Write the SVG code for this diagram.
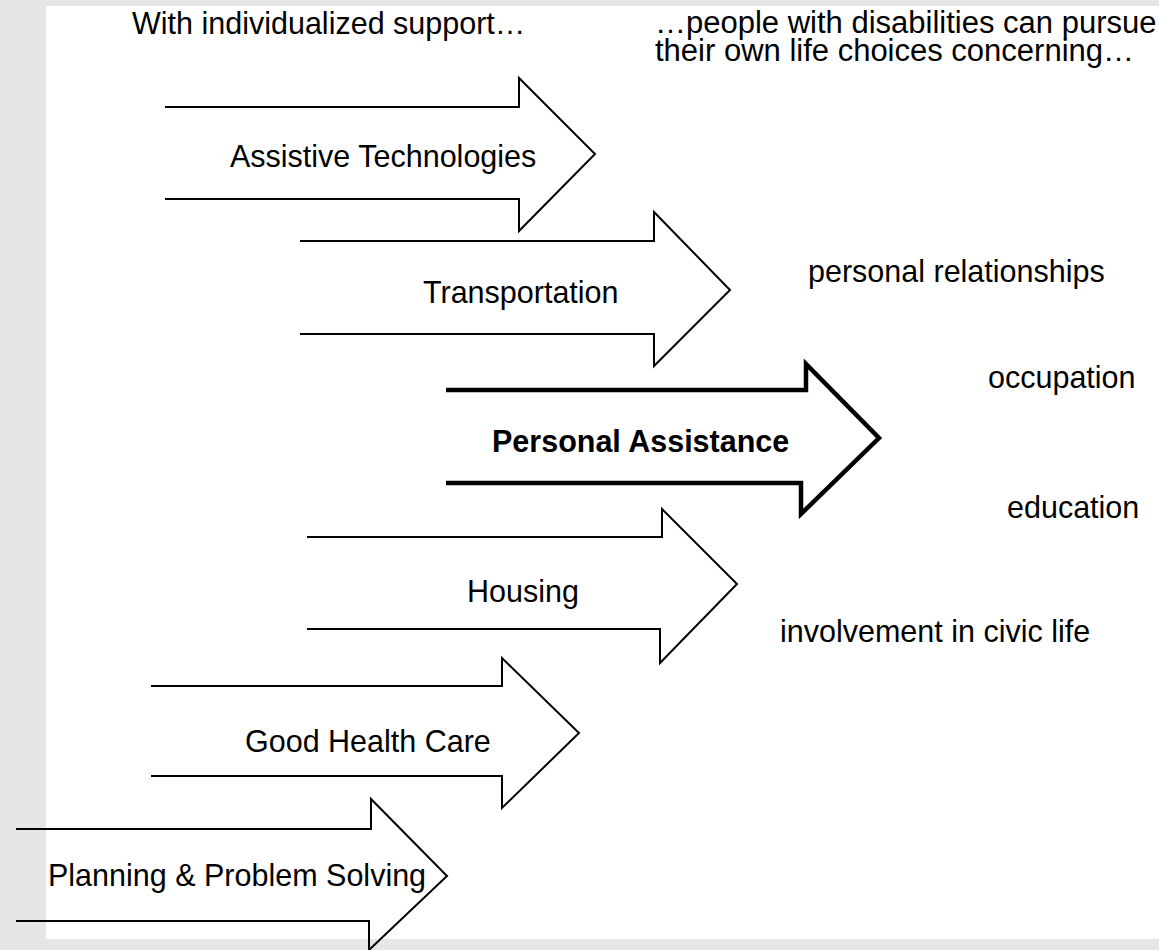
<svg xmlns="http://www.w3.org/2000/svg" width="1159" height="950" viewBox="0 0 1159 950">
<style>
text{font-family:"Liberation Sans",Arial,sans-serif;font-size:30.5px;fill:#000}
.b{font-weight:bold}
.h{font-size:31px}
.arr{fill:none;stroke:#000;stroke-width:2;stroke-linejoin:miter}
.thick{stroke-width:4.5}
</style>
<rect x="0" y="0" width="1159" height="950" fill="#e6e6e6"/>
<rect x="46" y="6" width="1113" height="933" fill="#ffffff"/>
<g id="headers">
<text x="132" y="34">With individualized support…</text>
<text class="h" x="655" y="33">…people with disabilities can pursue</text>
<text class="h" x="655" y="61">their own life choices concerning…</text>
</g>
<g id="connectors">
<path id="arrow-assistive" class="arr" d="M165,107 H519 V78 L595,154 L519,231 V199 H165"/>
<path id="arrow-transport" class="arr" d="M300,241 H654 V212 L730,290 L654,366 V334 H300"/>
<path id="arrow-personal" class="arr thick" d="M446,390 H806 V364 L879,438 L801,514 V483 H446"/>
<path id="arrow-housing" class="arr" d="M307,537 H662 V509 L737,584 L660,663 V629 H307"/>
<path id="arrow-health" class="arr" d="M151,686 H502 V658 L579,733 L502,808 V776 H151"/>
<path id="arrow-planning" class="arr" d="M16,829 H371 V799 L447,876 L369,950 V921 H16"/>
</g>
<g id="node-assistive"><text x="230" y="167">Assistive Technologies</text></g>
<g id="node-transport"><text x="423" y="303">Transportation</text></g>
<g id="node-personal"><text class="b" x="492" y="452">Personal Assistance</text></g>
<g id="node-housing"><text x="467" y="602">Housing</text></g>
<g id="node-health"><text x="245" y="752">Good Health Care</text></g>
<g id="node-planning"><text x="48" y="886">Planning &amp; Problem Solving</text></g>
<g id="node-relationships"><text x="808" y="282">personal relationships</text></g>
<g id="node-occupation"><text x="988" y="388">occupation</text></g>
<g id="node-education"><text x="1007" y="518">education</text></g>
<g id="node-civic"><text x="780" y="642">involvement in civic life</text></g>
</svg>
